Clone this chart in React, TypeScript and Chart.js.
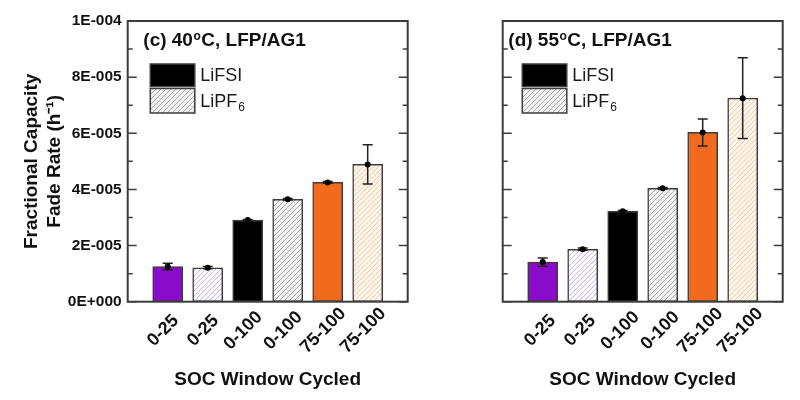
import React, { useEffect, useRef } from 'react';
import { Chart, registerables } from 'chart.js';

Chart.register(...registerables);

const categories = ['0-25', '0-25', '0-100', '0-100', '75-100', '75-100'];
const barPositions = [1, 2, 3, 4, 5, 6];
const rate40 = [1.25e-5, 1.21e-5, 2.91e-5, 3.65e-5, 4.25e-5, 4.89e-5];
const err40 = [0.12e-5, 0.04e-5, 0.02e-5, 0.03e-5, 0.03e-5, 0.7e-5];
const rate55 = [1.41e-5, 1.87e-5, 3.22e-5, 4.04e-5, 6.03e-5, 7.25e-5];
const err55 = [0.15e-5, 0.04e-5, 0.03e-5, 0.03e-5, 0.48e-5, 1.44e-5];
const yTickValues = [0, 2e-5, 4e-5, 6e-5, 8e-5, 1e-4];
const yTickLabels = ['0E+000', '2E-005', '4E-005', '6E-005', '8E-005', '1E-004'];
const minorTickValues = [1e-5, 3e-5, 5e-5, 7e-5, 9e-5];
const legendItems = [
  { main: 'LiFSI', sub: '' },
  { main: 'LiPF', sub: '6' },
];
const yTitle = ['Fractional Capacity', 'Fade Rate (h\u207B\u00B9)'];
const xTitle = 'SOC Window Cycled';

const FONT = '"Liberation Sans", Arial, Helvetica, sans-serif';
const TEXT = '#111111';
const LINE = '#3c3c3c';

function makeHatch(bg: string, line: string): CanvasPattern | string {
  const s = 5;
  const c = document.createElement('canvas');
  c.width = s;
  c.height = s;
  const g = c.getContext('2d');
  if (!g) return bg;
  g.fillStyle = bg;
  g.fillRect(0, 0, s, s);
  g.strokeStyle = line;
  g.lineWidth = 1;
  g.beginPath();
  g.moveTo(0, s);
  g.lineTo(s, 0);
  g.moveTo(-1, 1);
  g.lineTo(1, -1);
  g.moveTo(s - 1, s + 1);
  g.lineTo(s + 1, s - 1);
  g.stroke();
  return g.createPattern(c, 'repeat') || bg;
}

function barFills() {
  return [
    '#8a0bca',
    makeHatch('#ffffff', '#cfaeea'),
    '#000000',
    makeHatch('#f3f3f3', '#ababab'),
    '#f26a1e',
    makeHatch('#fdf4ec', '#f4cba6'),
  ];
}

interface PanelCfg {
  values: number[];
  errors: number[];
  titlePre: string;
  titleSup: string;
  titlePost: string;
  titleDx: number;
  legendDx: number;
  labelDx: number;
  showY: boolean;
  yWidth: number;
  canvasWidth: number;
  padRight: number;
}

function decorPlugin(cfg: PanelCfg) {
  return {
    id: 'panelDecor',
    afterDatasetsDraw(chart: any) {
      const { ctx, chartArea: a, scales } = chart;
      const x = scales.x;
      const y = scales.y;
      ctx.save();
      // error bars
      cfg.values.forEach((v, i) => {
        const px = x.getPixelForValue(barPositions[i]);
        const yt = y.getPixelForValue(v + cfg.errors[i]);
        const yb = y.getPixelForValue(v - cfg.errors[i]);
        ctx.strokeStyle = '#222';
        ctx.lineWidth = 1.5;
        ctx.beginPath();
        ctx.moveTo(px, yt);
        ctx.lineTo(px, yb);
        ctx.moveTo(px - 5, yt);
        ctx.lineTo(px + 5, yt);
        ctx.moveTo(px - 5, yb);
        ctx.lineTo(px + 5, yb);
        ctx.stroke();
        ctx.beginPath();
        ctx.arc(px, y.getPixelForValue(v), 3, 0, Math.PI * 2);
        ctx.fillStyle = '#000';
        ctx.fill();
      });
      // frame
      ctx.strokeStyle = LINE;
      ctx.lineWidth = 2;
      ctx.strokeRect(a.left, a.top, a.right - a.left, a.bottom - a.top);
      // inward ticks
      ctx.lineWidth = 1.5;
      const drawTick = (val: number, len: number) => {
        const py = y.getPixelForValue(val);
        ctx.beginPath();
        ctx.moveTo(a.left, py);
        ctx.lineTo(a.left + len, py);
        ctx.moveTo(a.right, py);
        ctx.lineTo(a.right - len, py);
        ctx.stroke();
      };
      yTickValues.forEach((v) => drawTick(v, 9));
      minorTickValues.forEach((v) => drawTick(v, 5));
      // rotated category labels, centred under each bar
      ctx.fillStyle = TEXT;
      ctx.font = `bold 18px ${FONT}`;
      ctx.textAlign = 'center';
      ctx.textBaseline = 'middle';
      categories.forEach((label, i) => {
        const px = x.getPixelForValue(barPositions[i]) + cfg.labelDx;
        ctx.save();
        ctx.translate(px, a.bottom + 29);
        ctx.rotate(-Math.PI / 4);
        ctx.fillText(label, 0, 0);
        ctx.restore();
      });
      // panel title
      ctx.fillStyle = TEXT;
      ctx.textBaseline = 'alphabetic';
      ctx.textAlign = 'left';
      let tx = a.left + cfg.titleDx;
      const ty = a.top + 25;
      ctx.font = `bold 19px ${FONT}`;
      ctx.fillText(cfg.titlePre, tx, ty);
      tx += ctx.measureText(cfg.titlePre).width + 0.5;
      ctx.font = `bold 12px ${FONT}`;
      ctx.fillText(cfg.titleSup, tx, ty - 6);
      tx += ctx.measureText(cfg.titleSup).width + 0.5;
      ctx.font = `bold 19px ${FONT}`;
      ctx.fillText(cfg.titlePost, tx, ty);
      // legend
      const lx = a.left + cfg.legendDx;
      const rects = [
        { top: a.top + 43, h: 22.5, fill: '#000000' as any },
        { top: a.top + 67.5, h: 24.5, fill: makeHatch('#f3f3f3', '#ababab') },
      ];
      legendItems.forEach((item, i) => {
        const r = rects[i];
        ctx.fillStyle = r.fill;
        ctx.fillRect(lx, r.top, 44.5, r.h);
        ctx.strokeStyle = LINE;
        ctx.lineWidth = 1.5;
        ctx.strokeRect(lx, r.top, 44.5, r.h);
        ctx.fillStyle = '#1a1a1a';
        ctx.font = `18px ${FONT}`;
        ctx.textBaseline = 'middle';
        const textX = lx + 50;
        const textY = r.top + r.h / 2 + 1;
        ctx.fillText(item.main, textX, textY);
        if (item.sub) {
          const w = ctx.measureText(item.main).width;
          ctx.font = `12px ${FONT}`;
          ctx.fillText(item.sub, textX + w + 1, textY + 6);
        }
      });
      ctx.restore();
    },
  };
}

function buildConfig(cfg: PanelCfg): any {
  const tickFont = { family: FONT, size: 15.5, weight: 'bold' };
  const titleFont = { family: FONT, size: 19, weight: 'bold' };
  return {
    type: 'bar',
    data: {
      datasets: [
        {
          data: barPositions.map((p, i) => ({ x: p, y: cfg.values[i] })),
          backgroundColor: barFills(),
          borderColor: LINE,
          borderWidth: 1.5,
          borderSkipped: false,
          barThickness: 30,
        },
      ],
    },
    options: {
      animation: false,
      responsive: false,
      maintainAspectRatio: false,
      layout: { padding: { top: 21, right: cfg.padRight, left: 0, bottom: 0 } },
      plugins: { legend: { display: false }, tooltip: { enabled: false } },
      scales: {
        x: {
          type: 'linear',
          offset: false,
          min: 0,
          max: 7,
          grid: { display: false, drawTicks: false, offset: false },
          border: { display: false },
          afterBuildTicks: (s: any) => {
            s.ticks = barPositions.map((v) => ({ value: v }));
          },
          afterFit: (s: any) => {
            s.height = 98.3;
          },
          ticks: { display: false },
          title: {
            display: true,
            text: xTitle,
            color: TEXT,
            font: titleFont,
            padding: { top: 0, bottom: 8.6 },
          },
        },
        y: {
          type: 'linear',
          min: 0,
          max: 1e-4,
          grid: { display: false, drawTicks: false },
          border: { display: false },
          afterBuildTicks: (s: any) => {
            s.ticks = yTickValues.map((v) => ({ value: v }));
          },
          afterFit: (s: any) => {
            s.width = cfg.yWidth;
          },
          ticks: {
            display: cfg.showY,
            padding: 6,
            color: TEXT,
            font: tickFont,
            callback: (_v: any, i: number) => yTickLabels[i],
          },
          title: {
            display: cfg.showY,
            text: yTitle,
            color: TEXT,
            font: titleFont,
            padding: { top: 20.5, bottom: 0 },
          },
        },
      },
    },
    plugins: [decorPlugin(cfg)],
  };
}

function Panel({ left, cfg }: { left: number; cfg: PanelCfg }) {
  const ref = useRef<HTMLCanvasElement>(null);
  useEffect(() => {
    if (!ref.current) return;
    const chart = new Chart(ref.current, buildConfig(cfg));
    return () => chart.destroy();
  }, []);
  return (
    <canvas
      ref={ref}
      width={cfg.canvasWidth}
      height={400}
      style={{ position: 'absolute', left, top: 0, width: cfg.canvasWidth, height: 400 }}
    />
  );
}

const panel40: PanelCfg = {
  values: rate40,
  errors: err40,
  titlePre: '(c) 40',
  titleSup: 'o',
  titlePost: 'C, LFP/AG1',
  titleDx: 15.6,
  legendDx: 22.6,
  labelDx: -4.5,
  showY: true,
  yWidth: 127.7,
  canvasWidth: 440,
  padRight: 32.3,
};

const panel55: PanelCfg = {
  values: rate55,
  errors: err55,
  titlePre: '(d) 55',
  titleSup: 'o',
  titlePost: 'C, LFP/AG1',
  titleDx: 5.6,
  legendDx: 19.6,
  labelDx: -2.5,
  showY: false,
  yWidth: 82.7,
  canvasWidth: 380,
  padRight: 17.3,
};

export default function App() {
  return (
    <div style={{ position: 'fixed', left: 0, top: 0, width: 800, height: 400, background: '#ffffff' }}>
      <Panel left={0} cfg={panel40} />
      <Panel left={420} cfg={panel55} />
    </div>
  );
}
